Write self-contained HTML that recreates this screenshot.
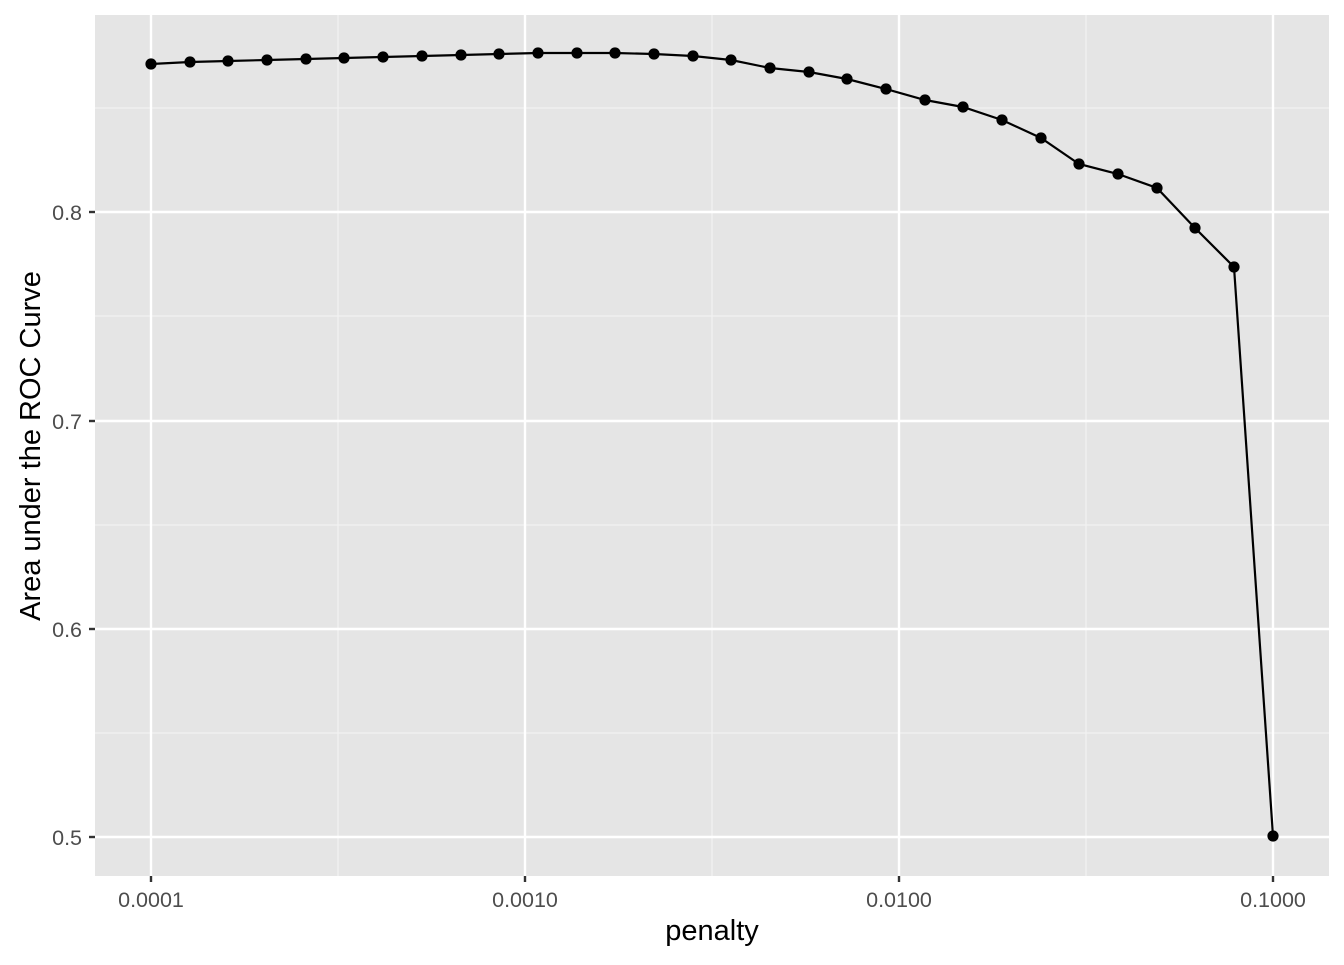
<!DOCTYPE html>
<html><head><style>body{margin:0;background:#fff}</style></head><body>
<svg width="1344" height="960" xmlns="http://www.w3.org/2000/svg" font-family="Liberation Sans, Arial, sans-serif">
<rect x="95" y="15" width="1234" height="861" fill="#e5e5e5"/>
<g stroke="#f2f2f2" stroke-width="1.2">
<line x1="95" x2="1329" y1="733" y2="733"/><line x1="95" x2="1329" y1="525" y2="525"/>
<line x1="95" x2="1329" y1="316" y2="316"/><line x1="95" x2="1329" y1="108" y2="108"/>
<line y1="15" y2="876" x1="338" x2="338"/><line y1="15" y2="876" x1="712" x2="712"/><line y1="15" y2="876" x1="1086" x2="1086"/>
</g>
<g stroke="#fff" stroke-width="2.4">
<line x1="95" x2="1329" y1="837" y2="837"/><line x1="95" x2="1329" y1="629" y2="629"/>
<line x1="95" x2="1329" y1="421" y2="421"/><line x1="95" x2="1329" y1="212" y2="212"/>
<line y1="15" y2="876" x1="151" x2="151"/><line y1="15" y2="876" x1="525" x2="525"/>
<line y1="15" y2="876" x1="899" x2="899"/><line y1="15" y2="876" x1="1273" x2="1273"/>
</g>
<g stroke="#333" stroke-width="2.4">
<line x1="89" x2="95" y1="837" y2="837"/><line x1="89" x2="95" y1="629" y2="629"/>
<line x1="89" x2="95" y1="421" y2="421"/><line x1="89" x2="95" y1="212" y2="212"/>
<line y1="876" y2="882" x1="151" x2="151"/><line y1="876" y2="882" x1="525" x2="525"/>
<line y1="876" y2="882" x1="899" x2="899"/><line y1="876" y2="882" x1="1273" x2="1273"/>
</g>
<g fill="#4d4d4d" font-size="21.5" text-anchor="end">
<text x="82" y="845">0.5</text><text x="82" y="637">0.6</text><text x="82" y="429">0.7</text><text x="82" y="220">0.8</text>
</g>
<g fill="#4d4d4d" font-size="21.5" text-anchor="middle">
<text x="151" y="907">0.0001</text><text x="525" y="907">0.0010</text><text x="899" y="907">0.0100</text><text x="1273" y="907">0.1000</text>
</g>
<text x="712" y="940" font-size="29" text-anchor="middle" fill="#000">penalty</text>
<text transform="translate(40,446) rotate(-90)" font-size="29" text-anchor="middle" fill="#000">Area under the ROC Curve</text>
<polyline fill="none" stroke="#000" stroke-width="2.2" points="151,64 190,62 228,61 267,60 306,59 344,58 383,57 422,56 461,55 499,54 538,53 577,53 615,53 654,54 693,56 731,60 770,68 809,72 847,79 886,89 925,100 963,107 1002,120 1041,138 1079,164 1118,174 1157,188 1195,228 1234,267 1273,836"/>
<g fill="#000">
<circle cx="151" cy="64" r="5.6"/><circle cx="190" cy="62" r="5.6"/><circle cx="228" cy="61" r="5.6"/><circle cx="267" cy="60" r="5.6"/><circle cx="306" cy="59" r="5.6"/><circle cx="344" cy="58" r="5.6"/><circle cx="383" cy="57" r="5.6"/><circle cx="422" cy="56" r="5.6"/><circle cx="461" cy="55" r="5.6"/><circle cx="499" cy="54" r="5.6"/><circle cx="538" cy="53" r="5.6"/><circle cx="577" cy="53" r="5.6"/><circle cx="615" cy="53" r="5.6"/><circle cx="654" cy="54" r="5.6"/><circle cx="693" cy="56" r="5.6"/><circle cx="731" cy="60" r="5.6"/><circle cx="770" cy="68" r="5.6"/><circle cx="809" cy="72" r="5.6"/><circle cx="847" cy="79" r="5.6"/><circle cx="886" cy="89" r="5.6"/><circle cx="925" cy="100" r="5.6"/><circle cx="963" cy="107" r="5.6"/><circle cx="1002" cy="120" r="5.6"/><circle cx="1041" cy="138" r="5.6"/><circle cx="1079" cy="164" r="5.6"/><circle cx="1118" cy="174" r="5.6"/><circle cx="1157" cy="188" r="5.6"/><circle cx="1195" cy="228" r="5.6"/><circle cx="1234" cy="267" r="5.6"/><circle cx="1273" cy="836" r="5.6"/>
</g>
</svg>
</body></html>
